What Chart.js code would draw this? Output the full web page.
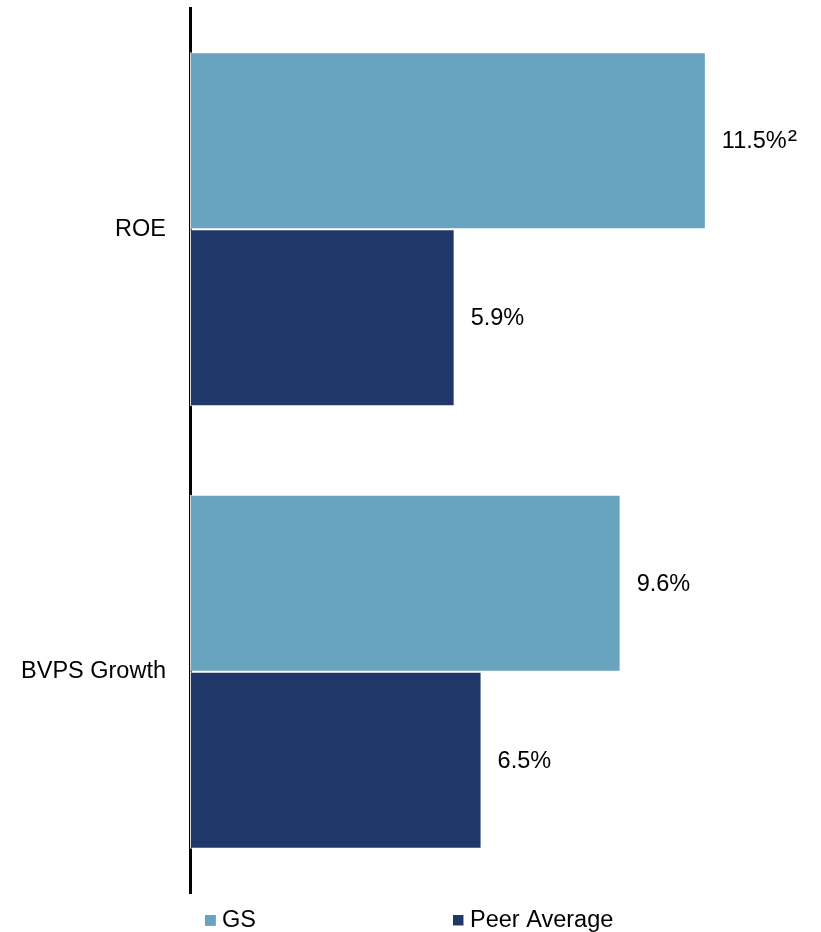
<!DOCTYPE html>
<html>
<head>
<meta charset="utf-8">
<script src="https://cdn.jsdelivr.net/npm/chart.js@4.4.1/dist/chart.umd.min.js"></script>
<style>
  html, body { margin: 0; padding: 0; background: #ffffff; }
  #wrap { width: 821px; height: 932px; }
</style>
</head>
<body>
<div id="wrap"><canvas id="c" width="821" height="932"></canvas></div>
<script>
// Metrics on the vertical axis
const categories = ['ROE', 'BVPS Growth'];
// Series values, in percent
const gsValues = [11.5, 9.6];
const peerValues = [5.9, 6.5];
// Footnote marks appended to the value labels
const gsNotes = ['²', ''];
const peerNotes = ['', ''];
const seriesNames = ['GS', 'Peer Average'];

const FONT = '"Liberation Sans", Arial, sans-serif';
const GS_COLOR = '#68a3c0';
const PEER_COLOR = '#1f3869';

// Value labels to the right of each bar
const valueLabels = {
  id: 'valueLabels',
  afterDatasetsDraw(chart) {
    const ctx = chart.ctx;
    ctx.save();
    ctx.fillStyle = '#000000';
    ctx.textAlign = 'left';
    ctx.textBaseline = 'middle';
    chart.data.datasets.forEach((ds, di) => {
      const meta = chart.getDatasetMeta(di);
      meta.data.forEach((bar, i) => {
        const v = ds.data[i];
        const main = v.toFixed(1) + '%';
        ctx.font = '23.5px ' + FONT;
        const x = bar.x + 16;
        ctx.fillText(main, x, bar.y + 1);
        const note = ds.notes[i];
        if (note) {
          const w = ctx.measureText(main).width;
          ctx.font = '28px ' + FONT;
          ctx.fillText(note, x + w + 1, bar.y + 1);
        }
      });
    });
    ctx.restore();
  }
};

// Legend along the bottom edge
const bottomLegend = {
  id: 'bottomLegend',
  afterDraw(chart) {
    const ctx = chart.ctx;
    const xs = [205, 453];
    const y = 920;
    ctx.save();
    ctx.font = '23.5px ' + FONT;
    ctx.textBaseline = 'middle';
    ctx.textAlign = 'left';
    chart.data.datasets.forEach((ds, i) => {
      const x = xs[i];
      ctx.fillStyle = ds.backgroundColor;
      ctx.fillRect(x, y - 5, 10, 10);
      ctx.strokeStyle = '#9aa3b0';
      ctx.lineWidth = 1;
      ctx.beginPath();
      ctx.moveTo(x + 10.5, y - 5);
      ctx.lineTo(x + 10.5, y + 5.5);
      ctx.lineTo(x, y + 5.5);
      ctx.stroke();
      ctx.fillStyle = '#000000';
      ctx.fillText(ds.label, x + 17, y + 1);
    });
    ctx.restore();
  }
};

new Chart(document.getElementById('c'), {
  type: 'bar',
  data: {
    labels: categories,
    datasets: [
      {
        label: seriesNames[0],
        data: gsValues,
        notes: gsNotes,
        backgroundColor: GS_COLOR,
        borderColor: 'rgba(255,255,255,0.85)',
        borderWidth: 1,
        borderSkipped: false
      },
      {
        label: seriesNames[1],
        data: peerValues,
        notes: peerNotes,
        backgroundColor: PEER_COLOR,
        borderColor: 'rgba(255,255,255,0.85)',
        borderWidth: 1,
        borderSkipped: false
      }
    ]
  },
  options: {
    indexAxis: 'y',
    responsive: false,
    animation: false,
    devicePixelRatio: 1,
    layout: { padding: { top: 8, bottom: 39, left: 0, right: 3 } },
    datasets: {
      bar: { categoryPercentage: 0.8, barPercentage: 1.0 }
    },
    plugins: {
      legend: { display: false },
      tooltip: { enabled: false }
    },
    scales: {
      x: {
        display: false,
        min: 0,
        max: 14
      },
      y: {
        z: 1,
        afterFit(scale) {
          scale.width = 190;
          scale.paddingTop = 0;
          scale.paddingBottom = 0;
        },
        grid: { display: false, drawTicks: false },
        border: { display: true, color: '#000000', width: 3 },
        ticks: {
          padding: 24,
          color: '#000000',
          font: { family: FONT, size: 23.5 }
        }
      }
    }
  },
  plugins: [valueLabels, bottomLegend]
});
</script>
</body>
</html>
